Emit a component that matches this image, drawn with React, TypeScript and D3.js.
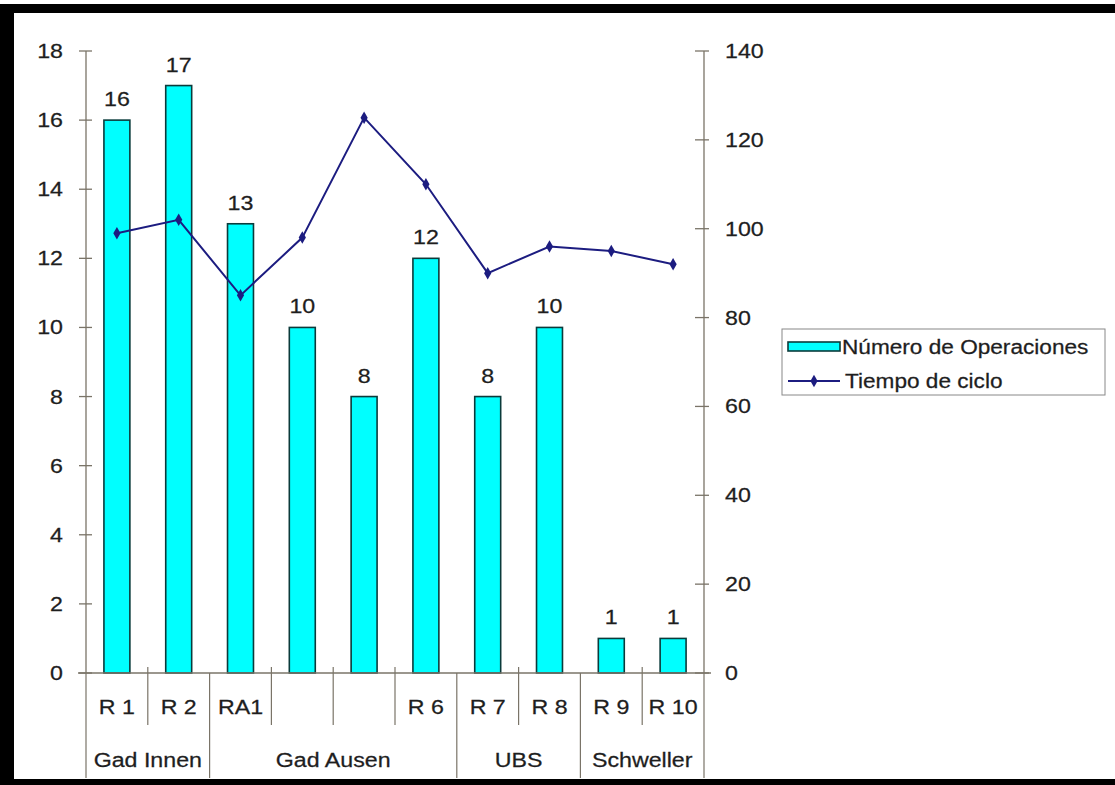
import React, { useEffect, useRef } from "react"
import * as d3 from "d3"

// chart data
const categories = ["R 1", "R 2", "RA1", "", "", "R 6", "R 7", "R 8", "R 9", "R 10"]
const operaciones = [16, 17, 13, 10, 8, 12, 8, 10, 1, 1]
const tiempoCiclo = [99, 102, 85, 98, 125, 110, 90, 96, 95, 92]
const groups = [
  { name: "Gad Innen", start: 0, end: 2 },
  { name: "Gad Ausen", start: 2, end: 6 },
  { name: "UBS", start: 6, end: 8 },
  { name: "Schweller", start: 8, end: 10 },
]
const leftTicks = [0, 2, 4, 6, 8, 10, 12, 14, 16, 18]
const rightTicks = [0, 20, 40, 60, 80, 100, 120, 140]

const W = 1115
const H = 785
const FONT = "'Liberation Sans', Arial, sans-serif"
const FS = 20
const STRETCH = 1.16

const App = () => {
  const ref = useRef<SVGSVGElement>(null)

  useEffect(() => {
    const svg = d3.select(ref.current)
    svg.selectAll("*").remove()

    const left = 86
    const right = 704
    const top = 51
    const bottom = 673
    const axisColor = "#7a7468"

    // the original text looks a little wider than plain Arial, so stretch it
    const txt = (g: any, xx: number, yy: number, s: string | number, anchor = "middle", size = FS) =>
      g.append("text")
        .attr("transform", "translate(" + xx + "," + yy + ") scale(" + STRETCH + ",1)")
        .attr("dy", "0.35em")
        .attr("text-anchor", anchor).attr("font-family", FONT).attr("font-size", size)
        .attr("fill", "#1e1e1e").attr("stroke", "#1e1e1e").attr("stroke-width", 0.25)
        .text(s)

    // frame
    svg.append("rect").attr("width", W).attr("height", H).attr("fill", "#fff")
    svg.append("rect").attr("x", 0).attr("y", 4).attr("width", W).attr("height", 9).attr("fill", "#000")
    svg.append("rect").attr("x", 0).attr("y", 4).attr("width", 14).attr("height", H).attr("fill", "#000")
    svg.append("rect").attr("x", 0).attr("y", 779).attr("width", W).attr("height", 6).attr("fill", "#000")

    const x = d3.scaleBand<number>().domain(d3.range(categories.length)).range([left, right])
    const yL = d3.scaleLinear().domain([0, 18]).range([bottom, top])
    const yR = d3.scaleLinear().domain([0, 140]).range([bottom, top])
    const cx = (i: number) => x(i)! + x.bandwidth() / 2

    const barW = x.bandwidth() * 0.42

    // left axis
    const gl = svg.append("g")
    gl.append("line").attr("x1", left).attr("x2", left).attr("y1", top).attr("y2", bottom)
      .attr("stroke", axisColor).attr("stroke-width", 1.3)
    leftTicks.forEach(t => {
      gl.append("line").attr("x1", left - 7).attr("x2", left + 6).attr("y1", yL(t)).attr("y2", yL(t))
        .attr("stroke", axisColor).attr("stroke-width", 1.3)
      txt(gl, 63, yL(t), t, "end")
    })

    // right axis
    const gr = svg.append("g")
    gr.append("line").attr("x1", right).attr("x2", right).attr("y1", top).attr("y2", bottom)
      .attr("stroke", axisColor).attr("stroke-width", 1.3)
    rightTicks.forEach(t => {
      gr.append("line").attr("x1", right - 9).attr("x2", right + 5).attr("y1", yR(t)).attr("y2", yR(t))
        .attr("stroke", axisColor).attr("stroke-width", 1.3)
      txt(gr, 725, yR(t), t, "start")
    })

    // bars
    svg.selectAll("rect.bar")
      .data(operaciones)
      .enter()
      .append("rect")
      .attr("class", "bar")
      .attr("x", (d, i) => cx(i) - barW / 2)
      .attr("y", d => yL(d))
      .attr("width", barW)
      .attr("height", d => bottom - yL(d))
      .attr("fill", "#00ffff")
      .attr("stroke", "#0b3b3b")
      .attr("stroke-width", 1.6)

    operaciones.forEach((d, i) => txt(svg, cx(i), yL(d) - 21, d))

    // x axis line
    svg.append("line").attr("x1", left - 8).attr("x2", right + 7).attr("y1", bottom).attr("y2", bottom)
      .attr("stroke", axisColor).attr("stroke-width", 1.3)

    // category separators
    const groupEdges = new Set<number>()
    groups.forEach(g => { groupEdges.add(g.start); groupEdges.add(g.end) })
    d3.range(categories.length + 1).forEach(i => {
      const xx = i < categories.length ? x(i)! : right
      const isGroup = groupEdges.has(i)
      svg.append("line")
        .attr("x1", xx).attr("x2", xx)
        .attr("y1", isGroup ? bottom : bottom - 6)
        .attr("y2", isGroup ? 778 : 725)
        .attr("stroke", axisColor).attr("stroke-width", 1.2)
    })

    categories.forEach((c, i) => txt(svg, cx(i), 707, c))

    groups.forEach(g => {
      const x0 = x(g.start)!
      const x1 = g.end < categories.length ? x(g.end)! : right
      txt(svg, (x0 + x1) / 2, 760, g.name)
    })

    // line series
    const lineColor = "#1c1c80"
    const line = d3.line<number>()
      .x((d, i) => cx(i))
      .y(d => yR(d))
    svg.append("path").datum(tiempoCiclo).attr("d", line)
      .attr("fill", "none").attr("stroke", lineColor).attr("stroke-width", 2)

    const diamond = d3.symbol().type(d3.symbolDiamond).size(45)
    svg.selectAll("path.pt")
      .data(tiempoCiclo)
      .enter()
      .append("path")
      .attr("class", "pt")
      .attr("d", diamond)
      .attr("transform", (d, i) => "translate(" + cx(i) + "," + yR(d) + ")")
      .attr("fill", lineColor)

    // legend
    const lg = svg.append("g")
    lg.append("rect").attr("x", 782).attr("y", 329).attr("width", 323).attr("height", 66)
      .attr("fill", "#fff").attr("stroke", "#888").attr("stroke-width", 1)
    lg.append("rect").attr("x", 788).attr("y", 342).attr("width", 52).attr("height", 9)
      .attr("fill", "#00ffff").attr("stroke", "#0b3b3b").attr("stroke-width", 1.6)
    txt(lg, 842, 347, "Número de Operaciones", "start", 19.5)
    lg.append("line").attr("x1", 788).attr("x2", 840).attr("y1", 381).attr("y2", 381)
      .attr("stroke", lineColor).attr("stroke-width", 2)
    lg.append("path").attr("d", diamond).attr("transform", "translate(814,381)").attr("fill", lineColor)
    txt(lg, 845, 381, "Tiempo de ciclo", "start", 19.5)
  }, [])

  return (
    <svg ref={ref} width={W} height={H} style={{ position: "absolute", left: 0, top: 0 }} />
  )
}

export default App
